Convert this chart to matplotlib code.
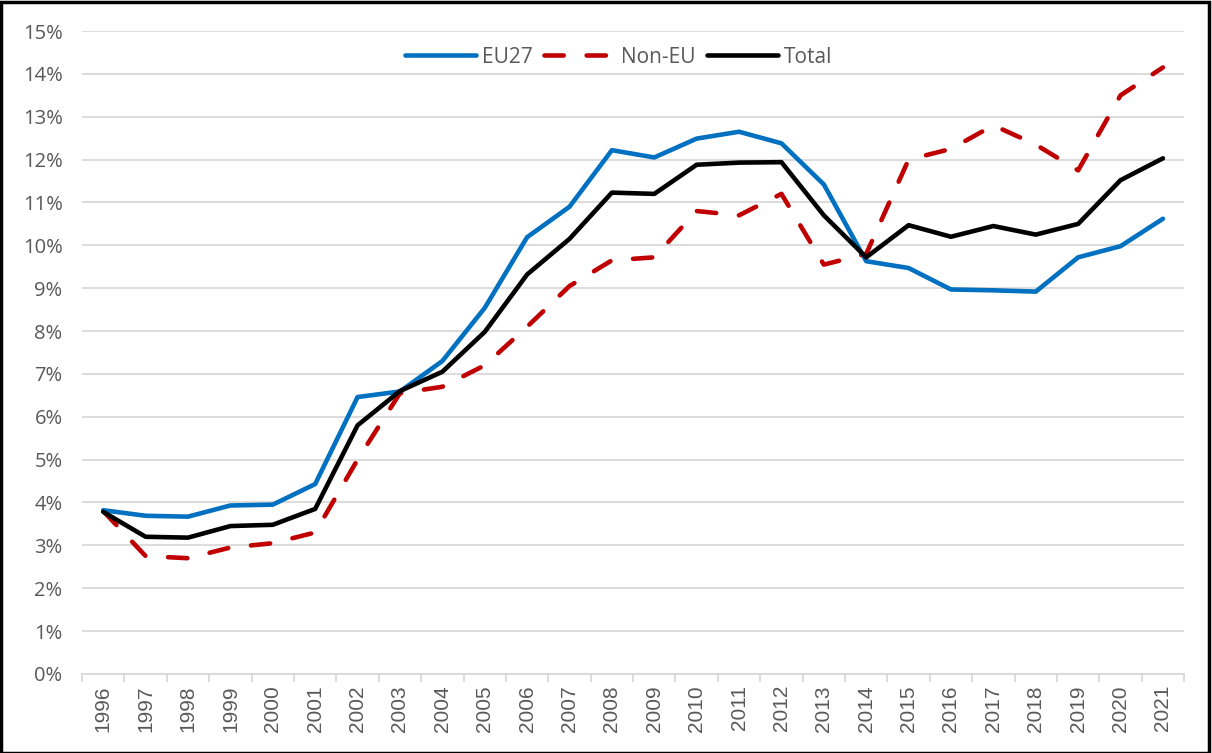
import matplotlib.pyplot as plt
from matplotlib.patches import Rectangle
from matplotlib.ticker import FuncFormatter, FixedLocator
import numpy as np

years = list(range(1996, 2022))

eu27 = [3.82, 3.69, 3.67, 3.93, 3.95, 4.43, 6.46, 6.59, 7.30, 8.54,
        10.19, 10.90, 12.22, 12.05, 12.49, 12.65, 12.38, 11.42, 9.63, 9.47,
        8.97, 8.95, 8.92, 9.72, 9.98, 10.62]
non_eu = [3.80, 2.75, 2.70, 2.95, 3.05, 3.30, 5.00, 6.55, 6.70, 7.20,
          8.10, 9.05, 9.65, 9.72, 10.80, 10.70, 11.20, 9.55, 9.80, 12.00,
          12.25, 12.80, 12.35, 11.75, 13.50, 14.15]
total = [3.78, 3.20, 3.18, 3.45, 3.48, 3.85, 5.80, 6.60, 7.05, 7.98,
         9.32, 10.15, 11.23, 11.20, 11.88, 11.93, 11.94, 10.70, 9.72, 10.47,
         10.20, 10.45, 10.25, 10.50, 11.52, 12.03]

grid_col = '#D9D9D9'
text_col = '#595959'

fig = plt.figure(figsize=(12.12, 7.53), dpi=100)
ax = fig.add_axes([0.0677, 0.105, 0.9093, 0.8538])

x = np.arange(len(years))
lw = 3.3
ax.plot(x, eu27, color='#0070C0', linewidth=lw, solid_capstyle='round',
        solid_joinstyle='round', label='EU27', zorder=3)
ax.plot(x, non_eu, color='#C00000', linewidth=lw, linestyle=(0, (4.2, 5.0)),
        dash_capstyle='round', dash_joinstyle='round', label='Non-EU', zorder=2)
ax.plot(x, total, color='black', linewidth=lw, solid_capstyle='round',
        solid_joinstyle='round', label='Total', zorder=4)

ax.set_xlim(-0.5, len(years) - 0.5)
ax.set_ylim(0, 15)
ax.set_yticks(np.arange(0, 16, 1))
ax.yaxis.set_major_formatter(FuncFormatter(lambda v, p: '%d%%' % v))
ax.grid(axis='y', color=grid_col, linewidth=1.3)
ax.set_axisbelow(True)

ax.set_xticks(x)
ax.set_xticklabels([str(y) for y in years], rotation=90,
                   fontfamily='Liberation Sans', fontsize=15, color=text_col)
ax.xaxis.set_minor_locator(FixedLocator(np.arange(-0.5, len(years), 1)))
ax.tick_params(axis='x', which='major', length=0, pad=8)
ax.tick_params(axis='x', which='minor', length=6, color=grid_col, width=1.3)
ax.tick_params(axis='y', length=0, pad=14, labelcolor=text_col)
for lab in ax.get_yticklabels():
    lab.set_fontfamily('Open Sans')
    lab.set_fontsize(14.5)

for s in ['left', 'right', 'top']:
    ax.spines[s].set_visible(False)
ax.spines['bottom'].set_color(grid_col)
ax.spines['bottom'].set_linewidth(1.3)

leg = ax.legend(loc='upper center', bbox_to_anchor=(0.487, 1.005), ncol=3,
                frameon=False, handlelength=3.4, handletextpad=0.3,
                columnspacing=0.55, prop={'family': 'Open Sans', 'size': 15})
for t in leg.get_texts():
    t.set_color(text_col)

fig.patches.append(Rectangle((0.0012, 0.0), 0.9962, 0.998, transform=fig.transFigure,
                             fill=False, edgecolor='black', linewidth=2.5))

fig.savefig('out.png', dpi=100)
